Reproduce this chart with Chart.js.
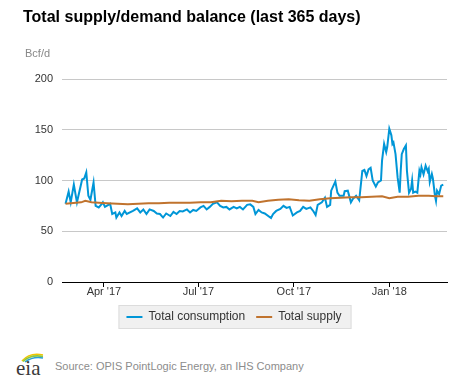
<!DOCTYPE html>
<html lang="en">

<head>
    <meta charset="UTF-8">
    <title>Total supply/demand balance</title>
    <style>
        body { margin: 0; background: #fff; font-family: "Liberation Sans", Arial, sans-serif; }
        .wrap { position: relative; width: 470px; height: 386px; overflow: hidden; }
        #chart { position: absolute; left: 0; top: 0; }
        h1 { position: absolute; left: 23px; top: 9px; margin: 0; font-size: 16px; line-height: 16px; font-weight: bold; color: #000; }
        .unit { position: absolute; left: 25px; top: 48px; font-size: 11px; line-height: 11px; color: #888; }
        .logo { position: absolute; left: 14px; top: 349px; }
        .source { position: absolute; left: 55px; top: 361px; font-size: 11px; line-height: 11px; color: #8c8c8c; }
    </style>
</head>

<body>
    <div class="wrap">
        <canvas id="chart" width="470" height="340"></canvas>
        <h1>Total supply/demand balance (last 365 days)</h1>
        <div class="unit">Bcf/d</div>
        <svg class="logo" width="32" height="30" viewBox="0 0 32 30">
            <path d="M8 12 Q16 3 29 6" stroke="#f2c500" stroke-width="1.6" fill="none"/>
            <path d="M9 12.5 Q17 5 29 7.5" stroke="#8dc63f" stroke-width="1.6" fill="none"/>
            <path d="M11 13 Q19 7 29 9" stroke="#2a9fd6" stroke-width="1.5" fill="none"/>
            <text x="2" y="26" font-family="Liberation Serif, serif" font-size="21" fill="#3a3a3a">eia</text>
        </svg>
        <div class="source">Source: OPIS PointLogic Energy, an IHS Company</div>
    </div>

    <script src="https://cdnjs.cloudflare.com/ajax/libs/Chart.js/4.4.1/chart.umd.js"></script>
    <script>
        // day 0 = Feb 23 2017, last day = Feb 22 2018
        const xTickDays = [37, 128, 220, 312];
        const xTickLabels = ["Apr '17", "Jul '17", "Oct '17", "Jan '18"];

        const consDays = [0, 3, 5, 8, 11, 16, 18, 20, 22, 24, 27, 29, 32, 35, 36, 38, 43, 45, 48, 49, 52, 54, 57, 59,
            65, 69, 72, 75, 78, 81, 85, 88, 91, 94, 97, 101, 104, 107, 110, 113, 117, 120, 123, 126, 130, 133, 136,
            139, 142, 146, 149, 152, 155, 158, 162, 165, 168, 171, 175, 178, 181, 183, 186, 189, 192, 198, 200, 203,
            207, 210, 213, 216, 219, 223, 226, 229, 232, 236, 239, 241, 243, 247, 250, 252, 255, 256, 260, 262, 264,
            268, 269, 272, 275, 277, 280, 283, 286, 288, 290, 292, 294, 296, 299, 301, 304, 305, 307, 309, 310, 312,
            314, 315, 316, 318, 320, 322, 323, 324, 326, 328, 329, 331, 333, 334, 335, 337, 339, 341, 342, 343, 345,
            347, 349, 350, 351, 353, 354, 356, 357, 358, 360, 362, 364];
        const consValues = [77, 89, 78.5, 96, 78.5, 101, 102, 108, 85, 81, 98, 75, 73.5, 77, 78.5, 74, 77, 67, 68.5, 63.5, 68.5, 65, 70, 67,
            70, 72.5, 68.5, 71.5, 67, 71.5, 70, 67.5, 67, 63.5, 67.5, 65, 69, 67, 70, 69.5, 71.5, 68.5, 71, 70, 73.5, 75, 71.5,
            74, 77, 78.5, 75, 73.5, 74, 71.5, 74, 72.5, 74, 71.5, 76, 76.5, 74, 67, 71, 68.5, 67.5, 63, 67, 70,
            72, 75, 73, 74, 65.5, 68.5, 70, 74, 72, 73.5, 69.5, 66, 76, 78.5, 83, 74, 76, 90, 99, 88, 85,
            85, 89.5, 90, 78.5, 82, 85, 80.5, 109.5, 110.5, 104.5, 111, 112.5, 100, 94, 98, 100, 119.5, 136, 128, 133, 151,
            144.5, 136, 137.5, 126, 103, 88, 109.5, 126, 131, 134.5, 109.5, 88, 92, 100, 88, 89, 88, 109.5, 106, 113, 106,
            114.5, 109, 111.5, 98.5, 106.5, 102, 85, 80, 90, 86.5, 95, 96];

        const supplyDays = [0, 5, 10, 15, 19, 25, 32, 40, 50, 60, 70, 80, 90, 100, 110, 120, 130, 140, 150, 160, 170, 180,
            186, 195, 205, 215, 225, 235, 245, 255, 265, 275, 285, 295, 305, 312, 320, 330, 340, 350, 357, 364];
        const supplyValues = [77, 77.5, 78, 78.5, 80, 78.5, 78, 77.5, 77, 76.5, 77, 77.5, 77.5, 78, 78, 78, 78.5, 78.5, 80, 79.5, 80, 80,
            78.5, 80, 81, 81.5, 80.5, 80, 81.5, 82.5, 83, 83.5, 83.5, 84, 84.5, 82.5, 84, 84, 85, 85, 84.5, 84.5];

        const fontFamily = '"Liberation Sans", Arial, sans-serif';

        function toPoints(days, values) {
            return days.map((d, i) => ({ x: d, y: values[i] }));
        }

        // grey box behind the legend
        const legendBg = {
            id: 'legendBg',
            beforeDraw(chart) {
                const boxes = chart.legend && chart.legend.legendHitBoxes;
                if (!boxes || !boxes.length) return;
                const first = boxes[0];
                const last = boxes[boxes.length - 1];
                const left = first.left - 8;
                const right = last.left + last.width + 10;
                const mid = first.top + first.height / 2;
                const ctx = chart.ctx;
                ctx.save();
                ctx.fillStyle = '#f0f0f0';
                ctx.strokeStyle = '#dcdcdc';
                ctx.lineWidth = 1;
                ctx.fillRect(left, mid - 12, right - left, 24);
                ctx.strokeRect(left + 0.5, mid - 12 + 0.5, right - left - 1, 23);
                ctx.restore();
            }
        };

        new Chart(document.getElementById('chart'), {
            type: 'line',
            data: {
                datasets: [{
                    label: 'Total consumption',
                    data: toPoints(consDays, consValues),
                    borderColor: '#0096d7',
                    backgroundColor: '#0096d7',
                    borderWidth: 2,
                    pointRadius: 0,
                    tension: 0,
                    order: 1
                }, {
                    label: 'Total supply',
                    data: toPoints(supplyDays, supplyValues),
                    borderColor: '#c0732e',
                    backgroundColor: '#c0732e',
                    borderWidth: 2,
                    pointRadius: 0,
                    tension: 0,
                    order: 0
                }]
            },
            options: {
                responsive: false,
                animation: false,
                devicePixelRatio: 1,
                layout: { padding: { left: 21, right: 23, top: 79, bottom: 7 } },
                scales: {
                    x: {
                        type: 'linear',
                        min: -3.4,
                        max: 367.6,
                        afterBuildTicks: (s) => { s.ticks = xTickDays.map(v => ({ value: v })); },
                        afterFit: (s) => { s.height = 18; },
                        grid: { drawOnChartArea: false, drawTicks: true, tickLength: 5, color: '#000' },
                        border: { color: '#000', width: 1 },
                        ticks: {
                            autoSkip: false,
                            maxRotation: 0,
                            padding: -1,
                            color: '#333',
                            font: { family: fontFamily, size: 11, lineHeight: 1 },
                            callback: (v, i) => xTickLabels[i]
                        }
                    },
                    y: {
                        min: 0,
                        max: 200,
                        afterFit: (s) => { s.width = 41; },
                        grid: {
                            drawTicks: false,
                            color: (c) => (c.tick && c.tick.value === 0 ? '#000' : '#c8c8c8')
                        },
                        border: { display: false },
                        ticks: {
                            stepSize: 50,
                            padding: 9,
                            color: '#333',
                            font: { family: fontFamily, size: 11 }
                        }
                    }
                },
                plugins: {
                    title: { display: false },
                    tooltip: { enabled: false },
                    legend: {
                        position: 'bottom',
                        labels: {
                            usePointStyle: true,
                            pointStyle: 'line',
                            pointStyleWidth: 16,
                            padding: 11,
                            color: '#333',
                            font: { family: fontFamily, size: 12 },
                            sort: (a, b) => a.datasetIndex - b.datasetIndex
                        }
                    }
                }
            },
            plugins: [legendBg]
        });
    </script>
</body>

</html>
